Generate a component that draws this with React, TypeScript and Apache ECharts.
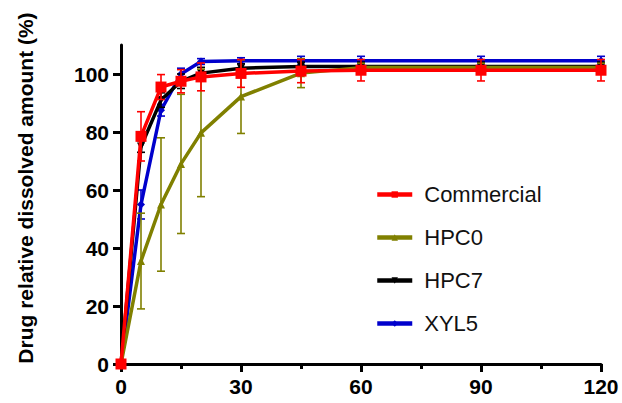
import React, { useEffect, useRef } from "react";
import * as echarts from "echarts";

const times = [0, 5, 10, 15, 20, 30, 45, 60, 90, 120];
const xTicks = [0, 30, 60, 90, 120];
const yTicks = [0, 20, 40, 60, 80, 100];

const seriesNames = ["Commercial", "HPC0", "HPC7", "XYL5"];
const commercial = [0, 78.5, 95.5, 97.5, 99, 100.2, 101, 101.3, 101.3, 101.3];
const commercialErr = [0, 8.5, 4.3, 4, 4.8, 4.8, 4, 3.7, 3.7, 3.7];
const hpc0 = [0, 35.5, 55, 69, 79.7, 92.2, 100.3, 102.2, 102.2, 102.2];
const hpc0Err = [0, 16.5, 23, 24, 22, 12.7, 5, 1.5, 1.5, 1.5];
const hpc7 = [0, 75, 91, 97.5, 100.3, 102, 102.6, 102.6, 102.6, 102.6];
const hpc7Err = [0, 2, 2.5, 2.5, 2, 1.5, 1.5, 1.5, 1.5, 1.5];
const xyl5 = [0, 55, 87.5, 100, 104.3, 104.6, 104.6, 104.6, 104.6, 104.6];
const xyl5Err = [0, 5, 2, 2, 1, 1, 1.5, 1.5, 1.5, 1.5];

const colors = ["#ff0000", "#808000", "#000000", "#0000cc"];
const symbols = ["rect", "triangle", "path://M0,0 L10,0 L5,10 Z", "diamond"];
const symbolSizes = [11, 8, 8, 8];
const values = [commercial, hpc0, hpc7, xyl5];
const errs = [commercialErr, hpc0Err, hpc7Err, xyl5Err];
const zOrder = [6, 5, 4, 3];

const FONT = '"Liberation Sans", Arial, sans-serif';

export default function App() {
  const ref = useRef<HTMLDivElement>(null);
  useEffect(() => {
    if (!ref.current) return;
    const chart = echarts.init(ref.current, undefined, { renderer: "svg" });

    const lineSeries = seriesNames.map((name, i) => ({
      name,
      type: "line",
      data: times.map((t, j) => [t, values[i][j]]),
      symbol: symbols[i],
      symbolSize: symbolSizes[i],
      showAllSymbol: true,
      lineStyle: { color: colors[i], width: 3.5 },
      itemStyle: { color: colors[i] },
      z: zOrder[i] + 0.5,
    }));

    const errSeries = seriesNames.map((name, i) => ({
      name: name + " error",
      type: "custom",
      data: times
        .map((t, j) => [t, values[i][j] - errs[i][j], values[i][j] + errs[i][j]])
        .filter((_, j) => errs[i][j] > 0),
      z: zOrder[i],
      renderItem: (params: any, api: any) => {
        const x = api.value(0);
        const lo = api.coord([x, api.value(1)]);
        const hi = api.coord([x, api.value(2)]);
        const cw = 4;
        const style = { stroke: colors[i], lineWidth: 1.6 };
        return {
          type: "group",
          children: [
            { type: "line", shape: { x1: lo[0], y1: lo[1], x2: hi[0], y2: hi[1] }, style },
            { type: "line", shape: { x1: lo[0] - cw, y1: lo[1], x2: lo[0] + cw, y2: lo[1] }, style },
            { type: "line", shape: { x1: hi[0] - cw, y1: hi[1], x2: hi[0] + cw, y2: hi[1] }, style },
          ],
        };
      },
    }));

    chart.setOption({
      animation: false,
      backgroundColor: "#ffffff",
      grid: { left: 121, top: 45, width: 480, height: 319, containLabel: false },
      legend: {
        data: seriesNames,
        orient: "vertical",
        left: 370,
        top: 177,
        itemWidth: 35,
        itemHeight: 8,
        itemGap: 18,
        lineStyle: { width: 4.5 },
        textStyle: {
          fontFamily: FONT,
          fontSize: 22,
          color: "#111",
          lineHeight: 25,
          padding: [0, 0, 0, 7],
        },
      },
      xAxis: {
        type: "value",
        min: 0,
        max: 120,
        interval: 30,
        splitLine: { show: false },
        axisLine: { show: true, lineStyle: { color: "#000", width: 3 } },
        axisTick: { show: true, length: 8, lineStyle: { color: "#000", width: 3 } },
        minorTick: { show: true, splitNumber: 2, length: 5, lineStyle: { color: "#000", width: 3 } },
        axisLabel: {
          customValues: xTicks,
          margin: 12,
          fontFamily: FONT,
          fontWeight: "bold",
          fontSize: 21,
          color: "#000",
        },
      },
      yAxis: {
        type: "value",
        min: 0,
        max: 110,
        splitLine: { show: false },
        axisLine: { show: true, lineStyle: { color: "#000", width: 3 } },
        axisTick: { show: true, length: 8, customValues: yTicks, lineStyle: { color: "#000", width: 3 } },
        axisLabel: {
          customValues: yTicks,
          margin: 12,
          fontFamily: FONT,
          fontWeight: "bold",
          fontSize: 21,
          color: "#000",
        },
      },
      graphic: [
        {
          type: "text",
          x: 25,
          y: 188,
          rotation: Math.PI / 2,
          style: {
            text: "Drug relative dissolved amount (%)",
            font: `bold 21px ${FONT}`,
            fill: "#000",
            textAlign: "center",
            textVerticalAlign: "middle",
          },
        },
      ],
      series: [...errSeries, ...lineSeries],
    });

    return () => chart.dispose();
  }, []);

  return (
    <div
      ref={ref}
      style={{ position: "absolute", left: 0, top: 0, width: 622, height: 403 }}
    />
  );
}
